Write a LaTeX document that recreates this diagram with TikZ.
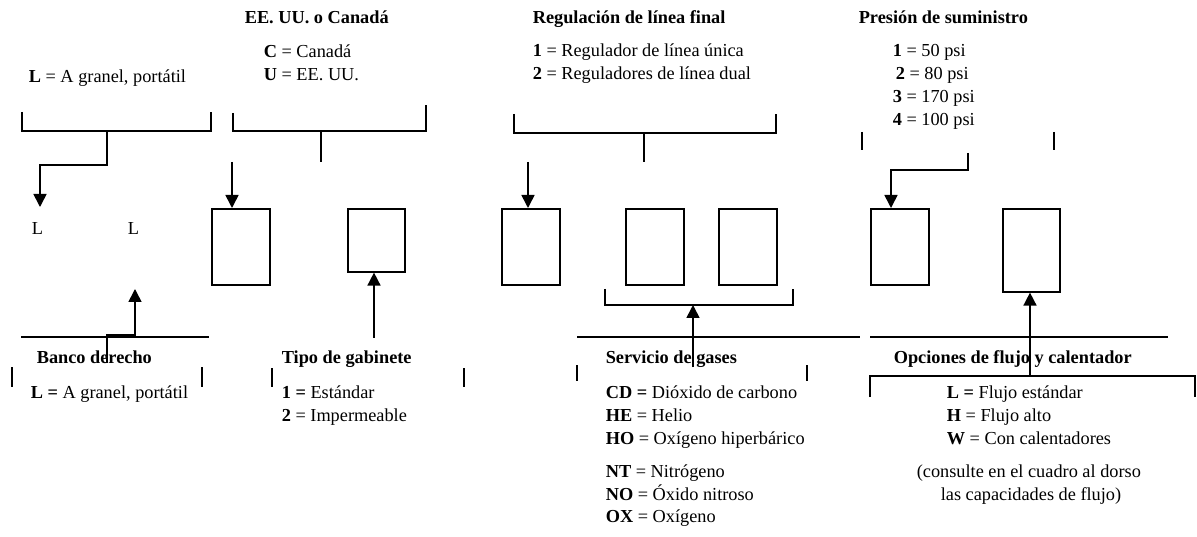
\documentclass[tikz,border=0pt]{standalone}
\usepackage{fontspec}
\setmainfont{Liberation Serif}
\usetikzlibrary{arrows.meta}
\begin{document}
\begin{tikzpicture}[x=1pt,y=-1pt,line width=1.6pt,
  txt/.style={anchor=base west,inner sep=0pt,font=\fontsize{18.3}{22}\selectfont},
  ttl/.style={anchor=base west,inner sep=0pt,font=\fontsize{18.3}{22}\selectfont\bfseries},
  box/.style={draw,line width=1.6pt,anchor=north west,inner sep=0pt,minimum width=58pt,minimum height=76pt},
  arr/.style={-{Triangle[width=13pt,length=13pt]}}]
\useasboundingbox (0,0) rectangle (1197,537);
% top texts
\node[txt] (tl) at (28,83) {\textbf{L} = A granel, portátil};
\node[ttl] (t2) at (244,24) {EE. UU. o Canadá};
\node[txt] (c2a) at (263,58) {\textbf{C} = Canadá};
\node[txt] (c2b) at (263,81) {\textbf{U} = EE. UU.};
\node[ttl] (t3) at (532,24) {Regulación de línea final};
\node[txt] (c3a) at (532,57) {\textbf{1} = Regulador de línea única};
\node[txt] (c3b) at (532,80) {\textbf{2} = Reguladores de línea dual};
\node[ttl] (t4) at (858,24) {Presión de suministro};
\node[txt] (p1) at (892,57) {\textbf{1} = 50 psi};
\node[txt] (p2) at (895,80) {\textbf{2} = 80 psi};
\node[txt] (p3) at (892,103) {\textbf{3} = 170 psi};
\node[txt] (p4) at (892,126) {\textbf{4} = 100 psi};
\node[txt] (L1) at (31,235) {L};
\node[txt] (L2) at (127,235) {L};
% boxes
\node[box] (b1) at (211,208) {};
\node[box,minimum width=57pt,minimum height=63pt] (b2) at (347,208) {};
\node[box] (b3) at (501,208) {};
\node[box] (b4) at (625,208) {};
\node[box] (b5) at (718,208) {};
\node[box] (b6) at (870,208) {};
\node[box,minimum width=57pt,minimum height=83pt] (b7) at (1002,208) {};
% bottom texts
\node[ttl] (t5) at (36,363) {Banco derecho};
\node[txt] (d5) at (30,398) {\textbf{L =} A granel, portátil};
\node[ttl] (t6) at (281,363) {Tipo de gabinete};
\node[txt] (d6a) at (281,398) {\textbf{1 =} Estándar};
\node[txt] (d6b) at (281,421) {\textbf{2} = Impermeable};
\node[ttl] (t7) at (605,363) {Servicio de gases};
\node[txt] (g1) at (605,398) {\textbf{CD =} Dióxido de carbono};
\node[txt] (g2) at (605,421) {\textbf{HE} = Helio};
\node[txt] (g3) at (605,444) {\textbf{HO} = Oxígeno hiperbárico};
\node[txt] (g4) at (605,477) {\textbf{NT} = Nitrógeno};
\node[txt] (g5) at (605,500) {\textbf{NO} = Óxido nitroso};
\node[txt] (g6) at (605,522) {\textbf{OX} = Oxígeno};
\node[ttl] (t8) at (893,363) {Opciones de flujo y calentador};
\node[txt] (f1) at (946,398) {\textbf{L =} Flujo estándar};
\node[txt] (f2) at (946,421) {\textbf{H} = Flujo alto};
\node[txt] (f3) at (946,444) {\textbf{W} = Con calentadores};
\node[txt] (f4) at (916,477) {(consulte en el cuadro al dorso};
\node[txt] (f5) at (940,500) {las capacidades de flujo)};
% top brackets
\draw (22,112) -- (22,131) -- (211,131) -- (211,112);
\draw (233,113) -- (233,131) -- (426,131) -- (426,105);
\draw (514,114) -- (514,133) -- (776,133) -- (776,114);
\draw (862,132) -- (862,150);
\draw (1054,132) -- (1054,150);
% top connectors
\coordinate (s1) at (107,131);
\coordinate (e1) at (40,207);
\draw[arr] (s1) -- (107,165) -- (40,165) -- (e1);
\draw (321,131) -- (321,162);
\coordinate (a1) at (232,162);
\draw[arr] (a1) -- (a1 |- b1.north);
\draw (644,133) -- (644,162);
\coordinate (a3) at (528,162);
\draw[arr] (a3) -- (a3 |- b3.north);
\coordinate (s4) at (968,153);
\coordinate (k4) at (891,170);
\draw[arr] (s4) -- (968,170) -- (k4) -- (k4 |- b6.north);
% bottom lines
\draw (21,337) -- (209,337);
\draw (577,337) -- (860,337);
\draw (870,337) -- (1168,337);
\draw (12,367) -- (12,387);
\draw (202,367) -- (202,387);
\draw (272,368) -- (272,387);
\draw (464,368) -- (464,387);
\draw (577,365) -- (577,381);
\draw (807,365) -- (807,381);
\draw (605,289) -- (605,305) -- (793,305) -- (793,289);
\draw (870,397) -- (870,376) -- (1195,376) -- (1195,397);
% bottom connectors
\coordinate (u5) at (107,363);
\coordinate (e5) at (135,289);
\draw[arr] (u5) -- (107,335) -- (135,335) -- (e5);
\coordinate (u6) at (374,338);
\draw[arr] (u6) -- (u6 |- b2.south);
\coordinate (u7) at (693,367);
\coordinate (e7) at (693,305);
\draw[arr] (u7) -- (e7);
\coordinate (u8) at (1030,376);
\draw[arr] (u8) -- (u8 |- b7.south);
\end{tikzpicture}
\end{document}
